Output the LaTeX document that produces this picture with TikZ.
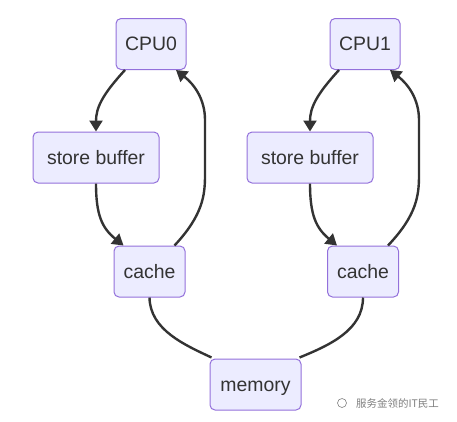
\documentclass[tikz,border=0pt]{standalone}
\usepackage{fontspec}
\setmainfont{Liberation Sans}
\newfontfamily\cjkfont{Noto Sans CJK SC}
\usetikzlibrary{arrows.meta}
\definecolor{nodefill}{HTML}{ECECFF}
\definecolor{nodeborder}{HTML}{9370DB}
\definecolor{edgecol}{HTML}{333333}
\definecolor{wmark}{HTML}{7F7F7F}
\begin{document}
\begin{tikzpicture}[x=1bp,y=-1bp,
  box/.style={draw=nodeborder, fill=nodefill, line width=1bp, rounded corners=5bp,
    minimum height=51bp, inner sep=0pt, text=edgecol, text height=13bp, text depth=0bp,
    font=\fontsize{19.5}{22}\selectfont},
  link/.style={draw=edgecol, line width=2.4bp},
  arrowlink/.style={link, -{Triangle[length=11bp,width=13bp]}}]
\useasboundingbox (0,0) rectangle (457,421);
\node[box, minimum width=70bp] (cpu0) at (151,44) {CPU0};
\node[box, minimum width=126bp] (sb0) at (96,157.5) {store buffer};
\node[box, minimum width=71bp] (c0) at (149.5,271.5) {cache};
\node[box, minimum width=70bp] (cpu1) at (365,44) {CPU1};
\node[box, minimum width=126bp] (sb1) at (310,157.5) {store buffer};
\node[box, minimum width=71bp] (c1) at (363,271.5) {cache};
\node[box, minimum width=91bp] (mem) at (255.5,384.5) {memory};
% left column
\draw[arrowlink] ([xshift=-26bp]cpu0.south) .. controls (102,95) and (96,108) .. (sb0.north);
\draw[arrowlink] (sb0.south) .. controls (96,215) and (102,228) .. ([xshift=-26bp]c0.north);
\draw[arrowlink] ([xshift=25bp]c0.north) .. controls (203,215) and (205,195) .. (205,175)
  -- (205,120) .. controls (205,100) and (195,85) .. ([xshift=25bp]cpu0.south);
\draw[link] (c0.south) .. controls (150,330) and (185,345) .. ([xshift=-44bp,yshift=1bp]mem.north);
% right column
\draw[arrowlink] ([xshift=-26bp]cpu1.south) .. controls (316,95) and (310,108) .. (sb1.north);
\draw[arrowlink] (sb1.south) .. controls (310,215) and (316,228) .. ([xshift=-26bp]c1.north);
\draw[arrowlink] ([xshift=25bp]c1.north) .. controls (417,215) and (419,195) .. (419,175)
  -- (419,120) .. controls (419,100) and (409,85) .. ([xshift=25bp]cpu1.south);
\draw[link] (c1.south) .. controls (363,330) and (330,345) .. ([xshift=44bp,yshift=1bp]mem.north);
% watermark
\node[text=wmark, font=\cjkfont\fontsize{10.5}{12}\selectfont, anchor=west, inner sep=0pt] (wm) at (356,403) {服务金领的IT民工};
\node[draw=wmark, line width=0.6bp, circle, minimum size=9bp, inner sep=0pt] (wmicon) at (342,403) {};
\end{tikzpicture}
\end{document}
